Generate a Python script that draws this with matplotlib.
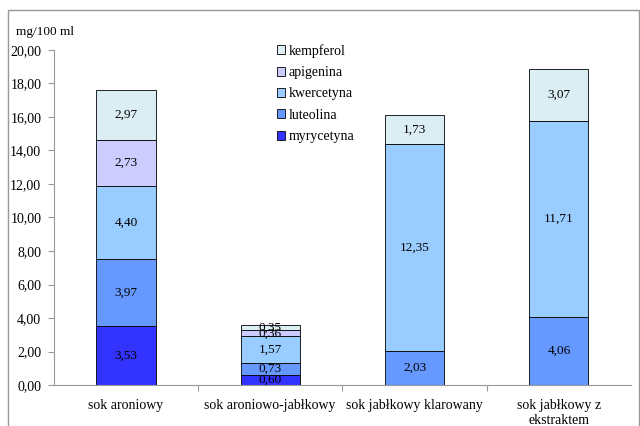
import matplotlib.pyplot as plt
from matplotlib.patches import Rectangle

plt.rcParams['font.family'] = ['Liberation Serif', 'DejaVu Serif']

categories = ['sok aroniowy', 'sok aroniowo-jabłkowy', 'sok jabłkowy klarowany',
              'sok jabłkowy z\nekstraktem']
compounds = ['myrycetyna', 'luteolina', 'kwercetyna', 'apigenina', 'kempferol']
values = {
    'myrycetyna': [3.53, 0.60, 0.0, 0.0],
    'luteolina': [3.97, 0.73, 2.03, 4.06],
    'kwercetyna': [4.40, 1.57, 12.35, 11.71],
    'apigenina': [2.73, 0.36, 0.0, 0.0],
    'kempferol': [2.97, 0.35, 1.73, 3.07],
}
colors = ['#3333ff', '#6699ff', '#99ccff', '#ccccff', '#dbeef4']
y_ticks = [0, 2, 4, 6, 8, 10, 12, 14, 16, 18, 20]

fig = plt.figure(figsize=(6.4, 4.26), dpi=100)
ax = fig.add_axes([0.084, 0.096, 0.902, 0.787])

# outer frame around the chart area
fig.patches.append(Rectangle((8 / 640, -0.05), 631 / 640, 1.05 - 10 / 426,
                             transform=fig.transFigure, fill=False,
                             edgecolor='#999999', linewidth=1.0))

x = range(len(categories))
bottom = [0.0] * len(categories)
for name, col in zip(compounds, colors):
    vals = values[name]
    ax.bar(x, vals, width=0.41, bottom=bottom, color=col, edgecolor='black',
           linewidth=0.6, label=name)
    for i, v in enumerate(vals):
        if v > 0:
            ax.text(i, bottom[i] + v / 2, f'{v:.2f}'.replace('.', ','),
                    ha='center', va='center', fontsize=9.5)
    bottom = [b + v for b, v in zip(bottom, vals)]

ax.set_xlim(-0.5, len(categories) - 0.5)
ax.set_ylim(0, 20)
ax.set_yticks(y_ticks)
ax.set_yticklabels([f'{t:.2f}'.replace('.', ',') for t in y_ticks], fontsize=10)
ax.set_xticks([i + 0.5 for i in range(len(categories) - 1)], minor=False)
ax.set_xticklabels([])
ax.set_xticks(list(x), minor=True)
ax.set_xticklabels(categories, minor=True, fontsize=10)
ax.tick_params(axis='x', which='minor', length=0, pad=10)
ax.tick_params(axis='x', which='major', length=4, color='#999999', direction='out')
ax.tick_params(axis='y', length=4, color='#999999', pad=5)

for side in ['top', 'right']:
    ax.spines[side].set_visible(False)
for side in ['left', 'bottom']:
    ax.spines[side].set_color('#999999')

ax.text(-0.065, 1.035, 'mg/100 ml', transform=ax.transAxes, fontsize=9.5,
        ha='left', va='bottom')

handles, labels = ax.get_legend_handles_labels()
ax.legend(handles[::-1], labels[::-1], loc='upper left',
          bbox_to_anchor=(0.365, 1.055), frameon=False, fontsize=10,
          handlelength=0.6, handleheight=0.6, handletextpad=0.25,
          labelspacing=0.6)

fig.savefig('out.png', dpi=100)
